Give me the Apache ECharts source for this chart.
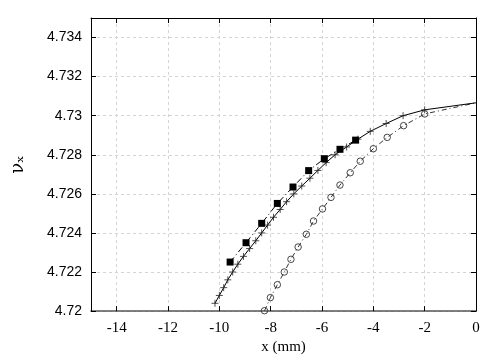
<!DOCTYPE html>
<html>
<head>
<meta charset="utf-8">
<script src="https://cdn.jsdelivr.net/npm/echarts@6/dist/echarts.min.js"></script>
<style>html,body{margin:0;padding:0;background:#fff}#c{width:504px;height:360px}</style>
</head>
<body>
<div id="c"></div>
<script>
// Series 1: solid line with "+" markers
var crossX = [-10.17,-10.00,-9.83,-9.67,-9.48,-9.28,-9.06,-8.82,-8.58,-8.35,-8.12,-7.89,-7.63,-7.38,-7.10,-6.79,-6.47,-6.16,-5.84,-5.49,-5.04,-4.60,-4.12,-3.50,-2.84,-2.00,0];
var crossV = [4.7204,4.7208,4.7212,4.7216,4.7220,4.7224,4.7228,4.7232,4.7236,4.7240,4.7244,4.7248,4.7252,4.7256,4.7260,4.7264,4.7268,4.7272,4.7276,4.7280,4.7284,4.7288,4.7292,4.7296,4.7300,4.7303,4.73066];
// Series 2: dash-dot line with filled squares
var squareX = [-9.58,-8.96,-8.35,-7.74,-7.13,-6.52,-5.91,-5.30,-4.69];
var squareV = [4.72251,4.72350,4.72449,4.72551,4.72635,4.72719,4.72780,4.72828,4.72875];
// Series 3: dash-dot line with open circles
var circleX = [-8.24,-8.01,-7.74,-7.47,-7.21,-6.93,-6.61,-6.33,-5.98,-5.65,-5.30,-4.90,-4.51,-4.00,-3.46,-2.82,-2.00,0];
var circleV = [4.72002,4.72069,4.72135,4.72200,4.72265,4.72328,4.72393,4.72461,4.72523,4.72582,4.72645,4.72708,4.72767,4.72831,4.72889,4.72949,4.73009,4.73066];
// Axis ticks
var xTicks = [-14,-12,-10,-8,-6,-4,-2,0];
var yTicks = [4.72,4.722,4.724,4.726,4.728,4.73,4.732,4.734];

function pairs(xs, ys, lastNoSymbol) {
  return xs.map(function (x, i) {
    var item = { value: [x, ys[i]] };
    if (lastNoSymbol && i === xs.length - 1) item.symbol = 'none';
    return item;
  });
}
function isTick(list, v) {
  for (var i = 0; i < list.length; i++) if (Math.abs(list[i] - v) < 1e-9) return true;
  return false;
}

var chart = echarts.init(document.getElementById('c'), null, { renderer: 'canvas' });
var gridLine = { show: true, lineStyle: { color: '#d4d4d4', width: 1, type: [3, 3] } };
chart.setOption({
  animation: false,
  backgroundColor: '#fff',
  grid: { left: 91, right: 28, top: 18, bottom: 48 },
  xAxis: [{
    type: 'value', min: -15, max: 0, minInterval: 2, maxInterval: 2, splitNumber: 7,
    position: 'bottom',
    name: 'x (mm)', nameLocation: 'middle', nameGap: 24,
    nameTextStyle: { fontFamily: 'Liberation Serif', fontSize: 15, color: '#000' },
    axisLine: { show: true, onZero: false, lineStyle: { color: '#555', width: 1.6 } },
    axisTick: { show: true, inside: true, length: 5, lineStyle: { color: '#000' } },
    axisLabel: { margin: 9, fontFamily: 'Liberation Serif', fontSize: 15, color: '#000',
      formatter: function (v) { return isTick(xTicks, v) ? String(v) : ''; } },
    splitLine: gridLine
  }, {
    type: 'value', min: -15, max: 0, minInterval: 2, maxInterval: 2, splitNumber: 7,
    position: 'top',
    axisLine: { show: true, onZero: false, lineStyle: { color: '#000', width: 1 } },
    axisTick: { show: true, inside: true, length: 5, lineStyle: { color: '#000' } },
    axisLabel: { show: false }, splitLine: { show: false }
  }],
  yAxis: [{
    type: 'value', min: 4.72, max: 4.735, minInterval: 0.002, maxInterval: 0.002, splitNumber: 7,
    position: 'left',
    name: 'νₓ', nameLocation: 'middle', nameGap: 64, nameRotate: 90,
    nameTextStyle: { fontFamily: 'DejaVu Serif', fontSize: 18, color: '#000' },
    axisLine: { show: true, onZero: false, lineStyle: { color: '#000', width: 1 } },
    axisTick: { show: true, inside: true, length: 5, lineStyle: { color: '#000' } },
    axisLabel: { margin: 9, fontFamily: 'Liberation Sans', fontSize: 14, color: '#000',
      formatter: function (v) { return isTick(yTicks, v) ? String(parseFloat(v.toFixed(3))) : ''; } },
    splitLine: gridLine
  }, {
    type: 'value', min: 4.72, max: 4.735, minInterval: 0.002, maxInterval: 0.002, splitNumber: 7,
    position: 'right',
    axisLine: { show: true, onZero: false, lineStyle: { color: '#000', width: 1 } },
    axisTick: { show: true, inside: true, length: 5, lineStyle: { color: '#000' } },
    axisLabel: { show: false }, splitLine: { show: false }
  }],
  series: [{
    type: 'line', name: 'cross', data: pairs(crossX, crossV, true),
    symbol: 'path://M0,5L10,5M5,0L5,10', symbolSize: 7, showAllSymbol: true,
    lineStyle: { color: '#000', width: 1 },
    itemStyle: { color: 'none', borderColor: '#222', borderWidth: 0.8 },
    z: 3
  }, {
    type: 'line', name: 'square', data: pairs(squareX, squareV, false),
    symbol: 'rect', symbolSize: 7, showAllSymbol: true,
    lineStyle: { color: '#000', width: 1, type: [6, 3, 1, 3] },
    itemStyle: { color: '#000' },
    z: 4
  }, {
    type: 'line', name: 'circle', data: pairs(circleX, circleV, true),
    symbol: 'circle', symbolSize: 6.5, showAllSymbol: true,
    lineStyle: { color: '#333', width: 1, type: [5, 3, 1, 3] },
    itemStyle: { color: 'rgba(255,255,255,0)', borderColor: '#333', borderWidth: 0.9 },
    z: 2
  }]
});
</script>
</body>
</html>
